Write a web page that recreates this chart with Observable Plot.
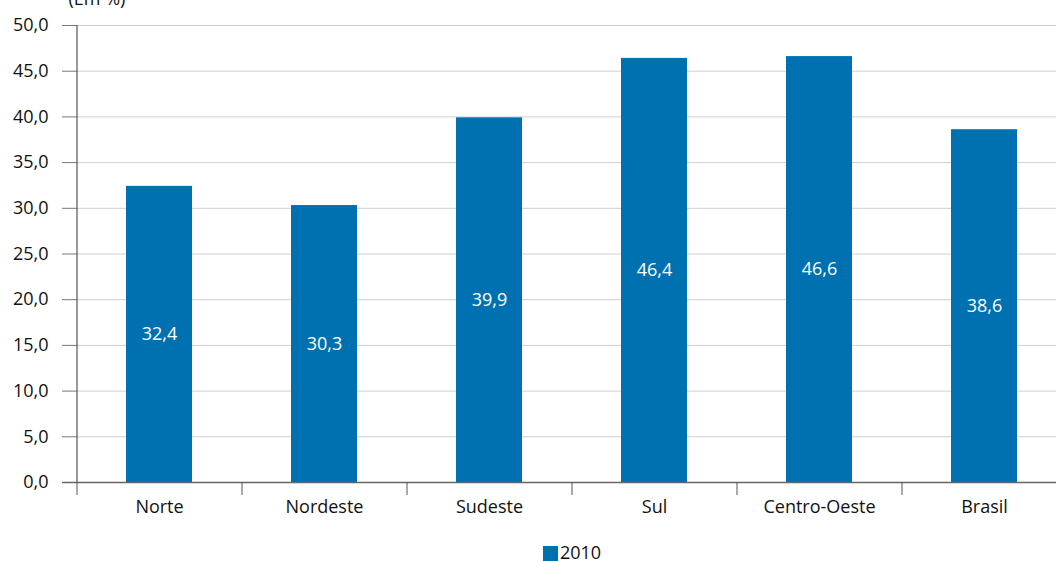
<!DOCTYPE html>
<html>
<head>
<meta charset="utf-8">
<script src="https://cdn.jsdelivr.net/npm/d3@7"></script>
<script src="https://cdn.jsdelivr.net/npm/@observablehq/plot@0.6"></script>
<style>
  html, body { margin: 0; padding: 0; background: #fff; overflow: hidden; }
  #chart { width: 1056px; height: 530px; }
  #chart svg { display: block; }
  .legend { position: relative; width: 990px; margin-left: 77px; height: 32px; display: flex; justify-content: center; align-items: flex-start; font-family: "Open Sans", sans-serif; font-size: 18px; color: #111; }
  .legend .sw { width: 15px; height: 15px; background: #0071b0; margin-top: 16px; margin-right: 2px; }
  .legend span { line-height: 18px; margin-top: 13px; }
</style>
</head>
<body>
<div id="chart"></div>
<script>
const categories = ["Norte", "Nordeste", "Sudeste", "Sul", "Centro-Oeste", "Brasil"];
const values2010 = [32.4, 30.3, 39.9, 46.4, 46.6, 38.6];
const yTicks = [0, 5, 10, 15, 20, 25, 30, 35, 40, 45, 50];
const seriesName = "2010";
const unitLabel = "(Em %)";

const data = categories.map((c, i) => ({region: c, value: values2010[i]}));
const fmt = v => v.toFixed(1).replace(".", ",");
const blue = "#0071b0";
const font = "'Open Sans', sans-serif";

const plot = Plot.plot({
  width: 1056,
  height: 530,
  marginTop: 25,
  marginBottom: 48,
  marginLeft: 77,
  marginRight: 0,
  style: {fontFamily: font, fontSize: "18px", color: "#111", background: "#fff"},
  x: {domain: categories, range: [77, 1067], paddingInner: 0.6, paddingOuter: 0.3, label: null},
  y: {domain: [0, 50], label: null},
  marks: [
    Plot.gridY(yTicks, {stroke: "#cfcfcf", strokeOpacity: 1, strokeWidth: 1}),
    Plot.axisY(yTicks, {tickSize: 15, tickPadding: 14, tickFormat: fmt, stroke: "#777", fontSize: 18, label: null}),
    Plot.barY(data, {x: "region", y: "value", fill: blue}),
    Plot.text(data, {x: "region", y: d => d.value / 2, text: d => fmt(d.value), fill: "#fff", fontSize: 18}),
    Plot.ruleY([0], {stroke: "#666", strokeWidth: 1.5, insetLeft: -15}),
    Plot.ruleX(categories, {x: d => d, dx: -82.5, y1: 0, y2: 0, insetBottom: -13, stroke: "#555", strokeWidth: 1}),
    Plot.ruleX([categories[0]], {x: d => d, dx: -82.5, y1: 0, y2: 50, stroke: "#555", strokeWidth: 1.2}),
    Plot.axisX({tickSize: 0, tickPadding: 18, fontSize: 18, label: null}),
    Plot.text([unitLabel], {frameAnchor: "top-left", dx: -9, dy: -21, lineAnchor: "bottom", textAnchor: "start", fontSize: 18, fill: "#111"})
  ]
});
document.getElementById("chart").appendChild(plot);

const leg = document.createElement("div");
leg.className = "legend";
leg.innerHTML = `<div class="sw"></div><span>${seriesName}</span>`;
document.body.appendChild(leg);
</script>
</body>
</html>
